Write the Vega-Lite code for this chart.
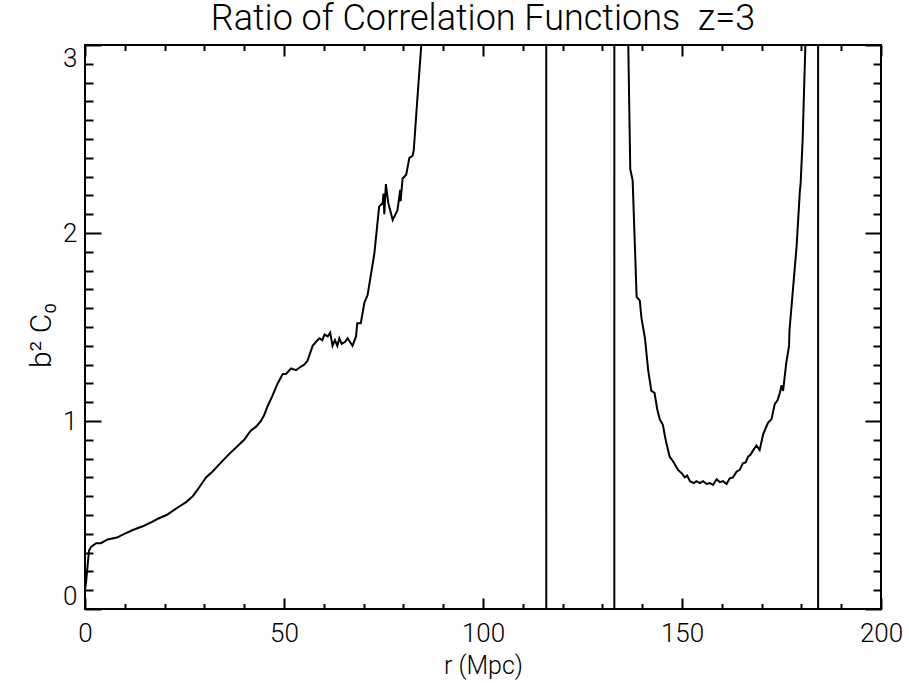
{
  "$schema": "https://vega.github.io/schema/vega-lite/v6.json",
  "width": 796,
  "height": 564,
  "autosize": {"type": "none"},
  "padding": {"left": 85, "top": 45, "right": 28, "bottom": 83},
  "background": "white",
  "title": {
    "text": "Ratio of Correlation Functions\u00a0\u00a0z=3",
    "font": "Roboto",
    "fontSize": 36,
    "fontWeight": 300,
    "color": "black",
    "anchor": "middle",
    "offset": 6
  },
  "config": {
    "view": {"stroke": "black", "strokeWidth": 2},
    "axis": {
      "grid": false,
      "domain": false,
      "tickColor": "black",
      "tickWidth": 2,
      "labelColor": "black",
      "titleColor": "black",
      "labelFont": "Roboto",
      "titleFont": "Roboto",
      "labelFontWeight": 300,
      "titleFontWeight": 300,
      "labelFontSize": 26,
      "titleFontSize": 26,
      "labelOverlap": false
    }
  },
  "data": {
    "values": [
      {"r": 0.0, "v": 0.10}, {"r": 0.3, "v": 0.15}, {"r": 1.0, "v": 0.31}, {"r": 1.5, "v": 0.33},
      {"r": 2.8, "v": 0.35}, {"r": 4.0, "v": 0.35}, {"r": 5.7, "v": 0.37}, {"r": 8.0, "v": 0.38},
      {"r": 9.9, "v": 0.40}, {"r": 12.0, "v": 0.42}, {"r": 14.5, "v": 0.44}, {"r": 16.5, "v": 0.46},
      {"r": 18.3, "v": 0.48}, {"r": 20.5, "v": 0.50}, {"r": 23.3, "v": 0.54}, {"r": 25.5, "v": 0.57},
      {"r": 27.1, "v": 0.60}, {"r": 28.8, "v": 0.65}, {"r": 30.4, "v": 0.70}, {"r": 32.0, "v": 0.73},
      {"r": 34.2, "v": 0.78}, {"r": 36.0, "v": 0.82}, {"r": 37.5, "v": 0.85}, {"r": 39.0, "v": 0.88},
      {"r": 40.0, "v": 0.90}, {"r": 41.0, "v": 0.93}, {"r": 41.7, "v": 0.95}, {"r": 43.0, "v": 0.97},
      {"r": 44.2, "v": 1.00}, {"r": 45.0, "v": 1.03}, {"r": 45.9, "v": 1.08}, {"r": 47.0, "v": 1.13},
      {"r": 48.4, "v": 1.20}, {"r": 49.7, "v": 1.25}, {"r": 50.5, "v": 1.25}, {"r": 51.8, "v": 1.28},
      {"r": 53.0, "v": 1.27}, {"r": 54.3, "v": 1.29}, {"r": 55.1, "v": 1.30}, {"r": 55.9, "v": 1.32},
      {"r": 57.2, "v": 1.40}, {"r": 58.0, "v": 1.42}, {"r": 58.9, "v": 1.44}, {"r": 59.6, "v": 1.43},
      {"r": 60.2, "v": 1.46}, {"r": 61.0, "v": 1.45}, {"r": 61.6, "v": 1.47}, {"r": 62.2, "v": 1.40},
      {"r": 62.8, "v": 1.43}, {"r": 63.4, "v": 1.40}, {"r": 63.9, "v": 1.44}, {"r": 64.5, "v": 1.41},
      {"r": 65.3, "v": 1.42}, {"r": 66.0, "v": 1.44}, {"r": 67.2, "v": 1.40}, {"r": 68.1, "v": 1.45},
      {"r": 68.4, "v": 1.52}, {"r": 69.3, "v": 1.52}, {"r": 70.2, "v": 1.63}, {"r": 71.0, "v": 1.67},
      {"r": 72.7, "v": 1.89}, {"r": 73.9, "v": 2.14}, {"r": 74.8, "v": 2.16}, {"r": 75.0, "v": 2.21},
      {"r": 75.2, "v": 2.10}, {"r": 75.6, "v": 2.26}, {"r": 76.2, "v": 2.16}, {"r": 77.3, "v": 2.07},
      {"r": 78.5, "v": 2.12}, {"r": 79.2, "v": 2.23}, {"r": 79.3, "v": 2.17}, {"r": 79.8, "v": 2.29},
      {"r": 80.7, "v": 2.31}, {"r": 81.5, "v": 2.40}, {"r": 82.3, "v": 2.41}, {"r": 82.6, "v": 2.44},
      {"r": 83.2, "v": 2.62}, {"r": 83.8, "v": 2.80}, {"r": 84.5, "v": 3.00}, {"r": 85.5, "v": 3.5},
      {"r": 90.0, "v": 4.5}, {"r": 100.0, "v": 7.0}, {"r": 110.0, "v": 15.0}, {"r": 115.8, "v": 80.0},
      {"r": 116.0, "v": -80.0}, {"r": 122.0, "v": -10.0}, {"r": 128.0, "v": -12.0}, {"r": 132.9, "v": -80.0},
      {"r": 133.1, "v": 80.0}, {"r": 135.0, "v": 8.0}, {"r": 136.5, "v": 3.0}, {"r": 137.0, "v": 2.34},
      {"r": 137.6, "v": 2.28}, {"r": 138.6, "v": 1.66}, {"r": 139.4, "v": 1.64}, {"r": 139.8, "v": 1.55},
      {"r": 140.7, "v": 1.44}, {"r": 141.5, "v": 1.27}, {"r": 142.3, "v": 1.16}, {"r": 143.1, "v": 1.15},
      {"r": 143.8, "v": 1.06}, {"r": 144.4, "v": 1.01}, {"r": 145.2, "v": 0.98}, {"r": 145.7, "v": 0.92},
      {"r": 146.1, "v": 0.88}, {"r": 146.9, "v": 0.81}, {"r": 147.6, "v": 0.79},
      {"r": 148.2, "v": 0.77}, {"r": 149.0, "v": 0.74}, {"r": 150.0, "v": 0.72}, {"r": 150.7, "v": 0.70},
      {"r": 151.3, "v": 0.71}, {"r": 152.0, "v": 0.68}, {"r": 153.0, "v": 0.67}, {"r": 153.6, "v": 0.68}, {"r": 154.5, "v": 0.67},
      {"r": 155.3, "v": 0.68}, {"r": 156.2, "v": 0.665}, {"r": 157.0, "v": 0.67}, {"r": 157.8, "v": 0.66},
      {"r": 158.7, "v": 0.69}, {"r": 159.5, "v": 0.675}, {"r": 160.3, "v": 0.68}, {"r": 161.2, "v": 0.665},
      {"r": 162.0, "v": 0.695}, {"r": 162.8, "v": 0.70}, {"r": 163.7, "v": 0.73}, {"r": 164.5, "v": 0.74}, {"r": 165.3, "v": 0.775}, {"r": 166.0, "v": 0.78}, {"r": 166.6, "v": 0.81},
      {"r": 167.2, "v": 0.82}, {"r": 167.9, "v": 0.845}, {"r": 168.7, "v": 0.87}, {"r": 169.5, "v": 0.845}, {"r": 170.4, "v": 0.93},
      {"r": 171.6, "v": 0.99}, {"r": 172.5, "v": 1.01}, {"r": 173.3, "v": 1.09}, {"r": 174.0, "v": 1.11}, {"r": 174.6, "v": 1.15},
      {"r": 175.0, "v": 1.19}, {"r": 175.4, "v": 1.16}, {"r": 176.2, "v": 1.31}, {"r": 176.9, "v": 1.40}, {"r": 177.0, "v": 1.48},
      {"r": 177.8, "v": 1.68}, {"r": 178.8, "v": 1.93}, {"r": 179.6, "v": 2.22}, {"r": 179.8, "v": 2.26},
      {"r": 180.3, "v": 2.49}, {"r": 181.0, "v": 3.0}, {"r": 182.0, "v": 4.0}, {"r": 184.1, "v": 80.0},
      {"r": 184.3, "v": -80.0}, {"r": 190.0, "v": -8.0}, {"r": 200.0, "v": -4.0}
    ]
  },
  "layer": [
    {
      "mark": {"type": "line", "color": "black", "strokeWidth": 2, "clip": true},
      "encoding": {
        "x": {
          "field": "r", "type": "quantitative",
          "scale": {"domain": [0, 200], "nice": false, "zero": false},
          "axis": {
            "orient": "bottom", "values": [0, 50, 100, 150, 200], "tickSize": -11,
            "labelPadding": 22, "labelFlush": false, "title": "r (Mpc)",
            "titleY": 56, "titleBaseline": "middle", "titleFontSize": 25
          }
        },
        "y": {
          "field": "v", "type": "quantitative",
          "scale": {"domain": [0, 3], "nice": false, "zero": false},
          "axis": {
            "orient": "left", "values": [0, 1, 2, 3], "tickSize": -16,
            "labelPadding": 24, "labelFlush": true, "title": "b² C₀",
            "titleX": -44, "titleY": 290, "titleBaseline": "middle", "titleFontSize": 30
          }
        }
      }
    },
    {
      "mark": {"type": "line", "opacity": 0, "clip": true},
      "encoding": {
        "x": {"field": "r", "type": "quantitative", "scale": {"domain": [0, 200], "nice": false, "zero": false},
          "axis": {"orient": "bottom", "values": [10, 20, 30, 40, 60, 70, 80, 90, 110, 120, 130, 140, 160, 170, 180, 190], "tickSize": -5.5, "labels": false, "title": null}},
        "y": {"field": "v", "type": "quantitative", "scale": {"domain": [0, 3], "nice": false, "zero": false},
          "axis": {"orient": "left", "values": [0.1, 0.2, 0.3, 0.4, 0.5, 0.6, 0.7, 0.8, 0.9, 1.1, 1.2, 1.3, 1.4, 1.5, 1.6, 1.7, 1.8, 1.9, 2.1, 2.2, 2.3, 2.4, 2.5, 2.6, 2.7, 2.8, 2.9], "tickSize": -8, "labels": false, "title": null}}
      }
    },
    {
      "mark": {"type": "line", "opacity": 0, "clip": true},
      "encoding": {
        "x": {"field": "r", "type": "quantitative", "scale": {"domain": [0, 200], "nice": false, "zero": false},
          "axis": {"orient": "top", "values": [0, 50, 100, 150, 200], "tickSize": -11, "labels": false, "title": null}},
        "y": {"field": "v", "type": "quantitative", "scale": {"domain": [0, 3], "nice": false, "zero": false},
          "axis": {"orient": "right", "values": [0, 1, 2, 3], "tickSize": -16, "labels": false, "title": null}}
      }
    },
    {
      "mark": {"type": "line", "opacity": 0, "clip": true},
      "encoding": {
        "x": {"field": "r", "type": "quantitative", "scale": {"domain": [0, 200], "nice": false, "zero": false},
          "axis": {"orient": "top", "values": [10, 20, 30, 40, 60, 70, 80, 90, 110, 120, 130, 140, 160, 170, 180, 190], "tickSize": -5.5, "labels": false, "title": null}},
        "y": {"field": "v", "type": "quantitative", "scale": {"domain": [0, 3], "nice": false, "zero": false},
          "axis": {"orient": "right", "values": [0.1, 0.2, 0.3, 0.4, 0.5, 0.6, 0.7, 0.8, 0.9, 1.1, 1.2, 1.3, 1.4, 1.5, 1.6, 1.7, 1.8, 1.9, 2.1, 2.2, 2.3, 2.4, 2.5, 2.6, 2.7, 2.8, 2.9], "tickSize": -8, "labels": false, "title": null}}
      }
    }
  ],
  "resolve": {"axis": {"x": "independent", "y": "independent"}}
}
